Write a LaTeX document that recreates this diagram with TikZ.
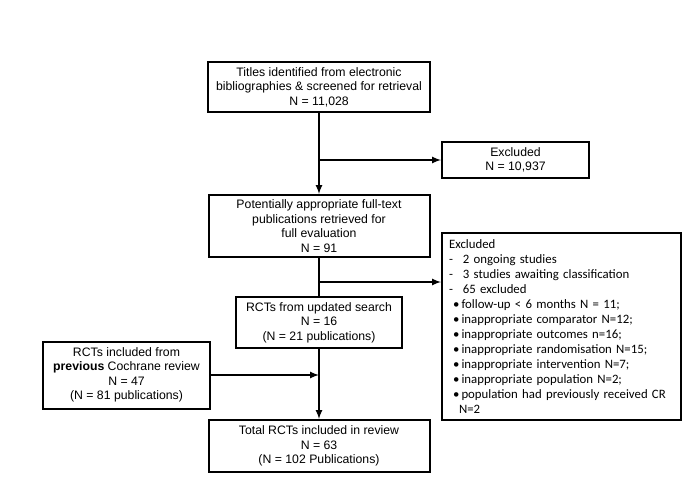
\documentclass[tikz,border=0pt]{standalone}
\usepackage{fontspec}
\setmainfont{Liberation Sans}
\newfontfamily\calibri{Carlito}
\usetikzlibrary{shapes,arrows,positioning}

\begin{document}
\begin{tikzpicture}[
    x=0.75pt, y=-0.75pt,
    box/.style={rectangle, draw=black, line width=1.5pt, align=center, inner sep=0.5pt, font=\fontsize{9.2}{10.9}\selectfont},
    listbox/.style={rectangle, draw=black, line width=1.5pt, align=left, inner xsep=5.25pt, inner ysep=2pt, text width=168.75pt, font=\calibri\fontsize{9.6}{11.25}\selectfont},
    link/.style={line width=1.3pt},
    arrow/.style={link, -latex},
]
\useasboundingbox (0,0) rectangle (693,480);

% main column
\node[box, minimum width=166.5pt, minimum height=37.5pt] (titles) at (319,87)
    {Titles identified from electronic\\bibliographies \& screened for retrieval\\N = 11,028};
\node[box, minimum width=165.75pt, minimum height=46.5pt] (fulltext) at (319,226)
    {Potentially appropriate full-text\\publications retrieved for\\full evaluation\\N = 91};
\node[box, minimum width=124.5pt, minimum height=38.25pt] (updated) at (319,322.5)
    {RCTs from updated search\\N = 16\\(N = 21 publications)};
\node[box, minimum width=165.75pt, minimum height=39pt] (total) at (319,446)
    {Total RCTs included in review\\N = 63\\(N = 102 Publications)};

% side boxes
\node[box, minimum width=110.25pt, minimum height=27pt] (excl1) at (515.5,160)
    {Excluded\\N = 10,937};
\node[box, minimum width=125.25pt, minimum height=50.25pt] (previous) at (126.5,375)
    {RCTs included from\\\textbf{previous} Cochrane review\\N = 47\\(N = 81 publications)};
\node[listbox, minimum height=140.25pt] (excl2) at (561.5,326.5)
    {Excluded\\
     \makebox[10.5pt][l]{-}2 ongoing studies\\
     \makebox[10.5pt][l]{-}3 studies awaiting classification\\
     \makebox[10.5pt][l]{-}65 excluded\\
     \hspace{3pt}\textbullet\,follow-up < 6 months N = 11;\\
     \hspace{3pt}\textbullet\,inappropriate comparator N=12;\\
     \hspace{3pt}\textbullet\,inappropriate outcomes n=16;\\
     \hspace{3pt}\textbullet\,inappropriate randomisation N=15;\\
     \hspace{3pt}\textbullet\,inappropriate intervention N=7;\\
     \hspace{3pt}\textbullet\,inappropriate population N=2;\\
     \hspace{3pt}\textbullet\,population had previously received CR\\
     \hspace{7.5pt}N=2};

\coordinate (split1) at (319,160);
\coordinate (split2) at (319,282);
\coordinate (merge) at (319,375);

% connectors
\draw[arrow] (titles) -- (fulltext);
\draw[arrow] (split1) -- (excl1.west);
\draw[link] (fulltext) -- (updated);
\draw[arrow] (split2) -- (split2 -| excl2.west);
\draw[arrow] (updated) -- (total);
\draw[arrow] (previous.east) -- (merge);

\end{tikzpicture}
\end{document}
